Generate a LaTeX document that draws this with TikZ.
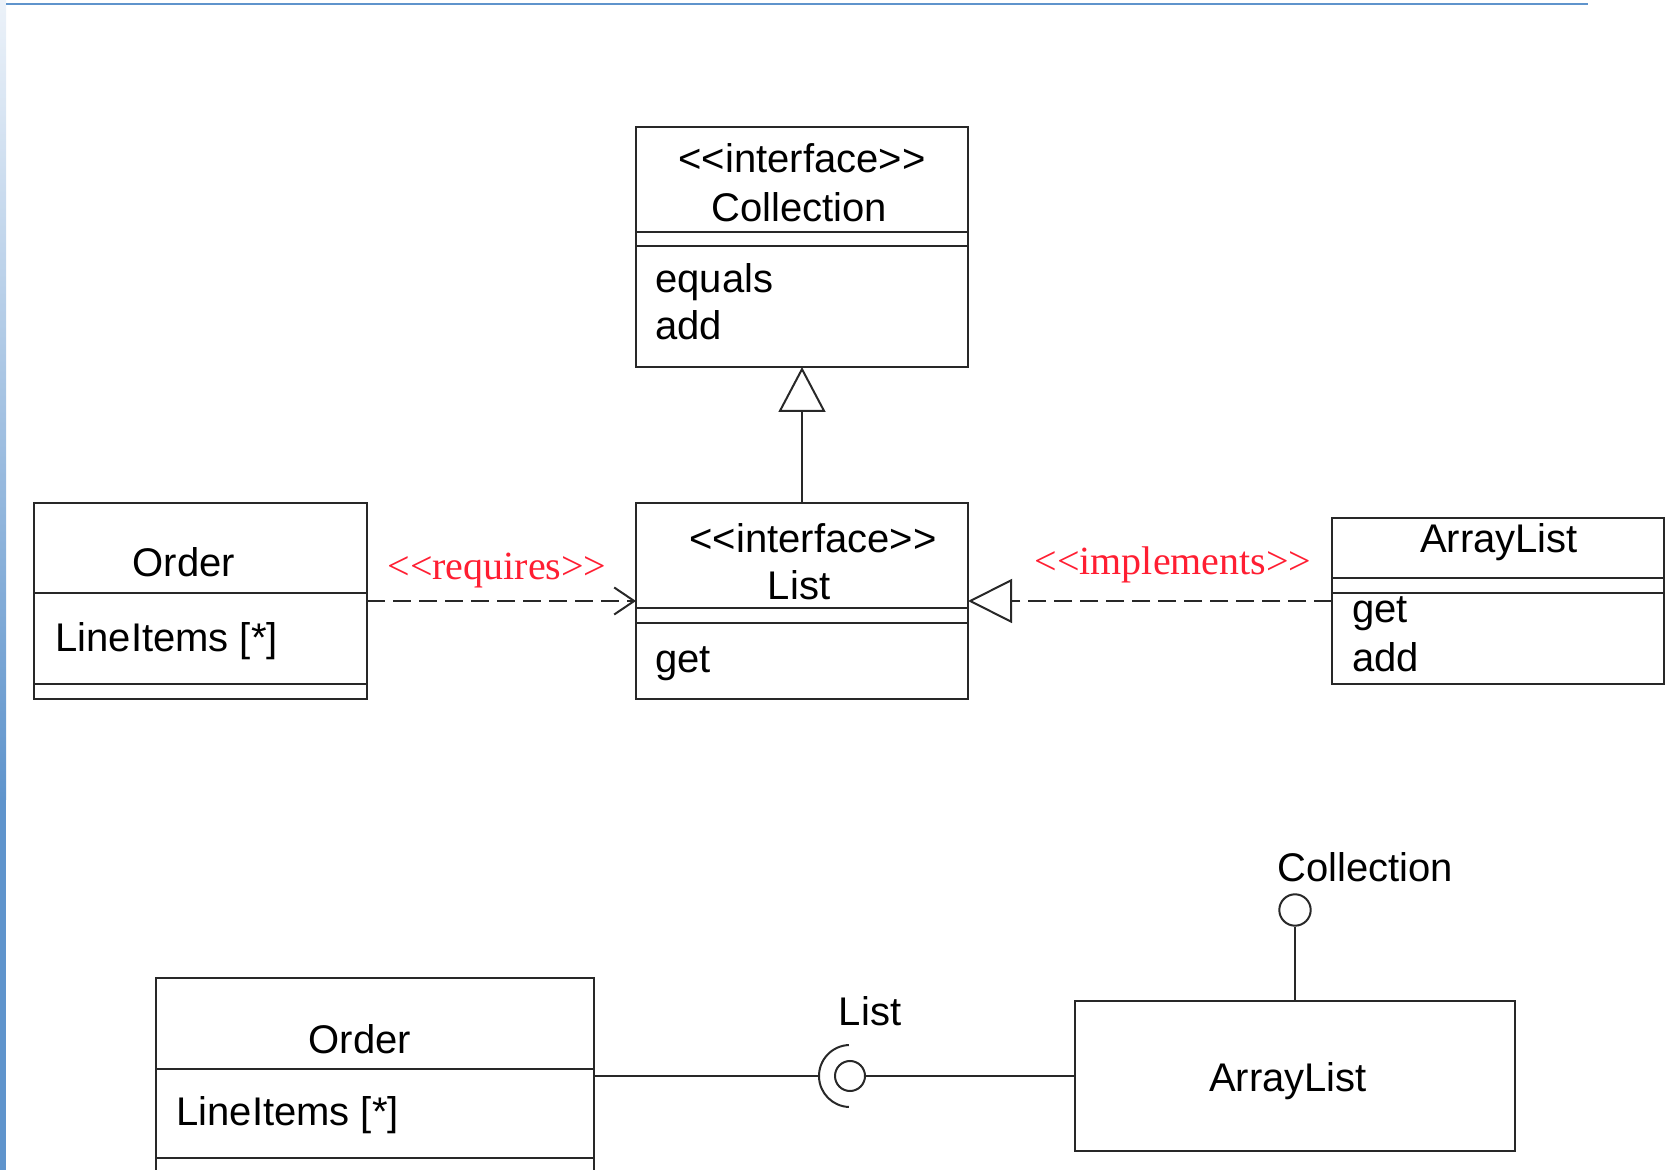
\documentclass[tikz,border=0pt]{standalone}
\usepackage{fontspec}
\newfontfamily\umlsans{Liberation Sans}
\newfontfamily\umlserif{Liberation Serif}
\usetikzlibrary{arrows.meta}
\definecolor{edge}{RGB}{40,40,40}
\definecolor{stereo}{RGB}{255,30,50}
\definecolor{frameblue}{RGB}{95,148,204}
\definecolor{framelight}{RGB}{236,242,249}
\begin{document}
\begin{tikzpicture}[x=0.5pt, y=-0.5pt,
  cls/.style={draw=edge, line width=1pt, anchor=north west, inner sep=0pt, outer sep=0pt},
  sep/.style={draw=edge, line width=1pt},
  lbl/.style={font=\umlsans\fontsize{20pt}{24pt}\selectfont, inner sep=0pt, text=black},
  stereolbl/.style={font=\umlserif\fontsize{20pt}{24pt}\selectfont, inner sep=0pt, text=stereo},
  conn/.style={draw=edge, line width=1pt},
  dep/.style={conn, dash pattern=on 9pt off 4pt},
  iface/.style={circle, draw=edge, line width=1pt, inner sep=0pt, fill=white}
]
\useasboundingbox (0,0) rectangle (1672,1170);
\clip (0,0) rectangle (1672,1170);
% frame
\shade[top color=framelight, bottom color=frameblue] (0,0) rectangle (6,800);
\fill[frameblue] (0,800) rectangle (6,1170);
\draw[frameblue, line width=1pt] (6,4) -- (1588,4);

% Collection interface
\node[cls, minimum width=166pt, minimum height=120pt] (coll) at (636,127) {};
\draw[sep] ([yshift=-52.5pt]coll.north west) -- ([yshift=-52.5pt]coll.north east);
\draw[sep] ([yshift=-59.5pt]coll.north west) -- ([yshift=-59.5pt]coll.north east);
\node[lbl, anchor=base] (collst) at (802,173) {<<interface>>};
\node[lbl, anchor=base] (collnm) at (799,222) {Collection};
\node[lbl, anchor=base west] (collop1) at (655,293) {equals};
\node[lbl, anchor=base west] (collop2) at (655,340) {add};

% List interface
\node[cls, minimum width=166pt, minimum height=98pt] (list) at (636,503) {};
\draw[sep] ([yshift=-52.5pt]list.north west) -- ([yshift=-52.5pt]list.north east);
\draw[sep] ([yshift=-60pt]list.north west) -- ([yshift=-60pt]list.north east);
\node[lbl, anchor=base] (listst) at (813,553) {<<interface>>};
\node[lbl, anchor=base] (listnm) at (799,600) {List};
\node[lbl, anchor=base west] (listop) at (655,673) {get};

% Order (top)
\node[cls, minimum width=166.5pt, minimum height=98pt] (ordA) at (34,503) {};
\draw[sep] ([yshift=-45pt]ordA.north west) -- ([yshift=-45pt]ordA.north east);
\draw[sep] ([yshift=-90.5pt]ordA.north west) -- ([yshift=-90.5pt]ordA.north east);
\node[lbl, anchor=base] (ordAnm) at (184,577) {Order};
\node[lbl, anchor=base west] (ordAat) at (55,652) {LineItems [*]};

% ArrayList (top)
\node[cls, minimum width=166pt, minimum height=83pt] (alA) at (1332,518) {};
\draw[sep] ([yshift=-30pt]alA.north west) -- ([yshift=-30pt]alA.north east);
\draw[sep] ([yshift=-37.5pt]alA.north west) -- ([yshift=-37.5pt]alA.north east);
\node[lbl, anchor=base] (alAnm) at (1499,553) {ArrayList};
\node[lbl, anchor=base west] (alAop1) at (1352,623) {get};
\node[lbl, anchor=base west] (alAop2) at (1352,672) {add};

% connectors (top)
\draw[conn, -{Triangle[open, length=22.5pt, width=23.5pt]}] (list.north) -- (coll.south);
\draw[dep, -{Straight Barb[length=10pt, width=13.5pt]}] (ordA.east) -- (list.west);
\draw[dep, -{Triangle[open, length=22pt, width=22pt]}] (alA.west) -- (list.east);
\node[stereolbl, anchor=base] (req) at (497,580) {<<requires>>};
\node[stereolbl, anchor=base] (impl) at (1173,575) {<<implements>>};

% Order (bottom)
\node[cls, minimum width=219pt, minimum height=98pt] (ordB) at (156,978) {};
\draw[sep] ([yshift=-45.5pt]ordB.north west) -- ([yshift=-45.5pt]ordB.north east);
\draw[sep] ([yshift=-90pt]ordB.north west) -- ([yshift=-90pt]ordB.north east);
\node[lbl, anchor=base] (ordBnm) at (360,1053) {Order};
\node[lbl, anchor=base west] (ordBat) at (176,1125) {LineItems [*]};

% ArrayList (bottom)
\node[cls, minimum width=220pt, minimum height=75pt] (alB) at (1075,1001) {};
\node[lbl, anchor=base] (alBnm) at (1288,1091) {ArrayList};

% ball and socket
\node[iface, minimum size=15pt] (ball) at (850,1076) {};
\coordinate (sockL) at (819,1076);
\draw[conn] (ordB.east) -- (sockL);
\draw[conn] ([shift={(92:15.5pt)}]ball.center) arc[start angle=92, end angle=268, radius=15.5pt];
\draw[conn] (ball.east) -- (alB.west);
\node[lbl, anchor=base] (listlbl) at (870,1025) {List};

% lollipop
\node[iface, minimum size=15.7pt] (lolli) at (1295,910) {};
\draw[conn] (lolli.south) -- (alB.north);
\node[lbl, anchor=base west] (colllbl) at (1277,882) {Collection};
\end{tikzpicture}
\end{document}
